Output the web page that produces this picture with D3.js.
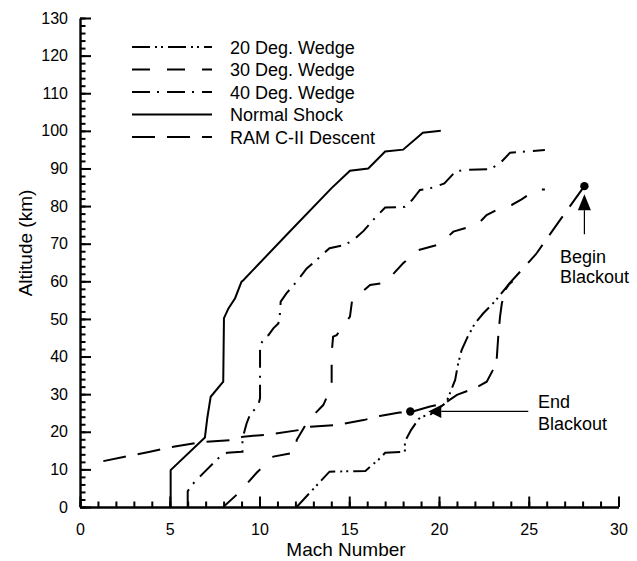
<!DOCTYPE html>
<html>
<head>
<meta charset="utf-8">
<script src="https://cdn.jsdelivr.net/npm/d3@7"></script>
<style>
  body { margin: 0; background: #fff; }
  text { font-family: "Liberation Sans", Arial, sans-serif; fill: #000; }
</style>
</head>
<body>
<div id="chart"></div>
<script>
// curves: mach number and altitude (km)
var normalMach = [5.05, 5.05, 6.96, 7.09, 7.28, 7.98, 8.02, 8.27, 8.64, 9.0, 9.1, 11.5, 14.0, 15.04, 16.06, 17.0, 18.0, 19.1, 20.1];
var normalAlt  = [0, 9.8, 18.5, 23.6, 29.3, 33.3, 50.2, 52.8, 55.5, 59.9, 60.3, 72.3, 84.7, 89.4, 90.0, 94.5, 95.0, 99.5, 100];

var wedge40Mach = [6.0, 6.0, 6.28, 6.87, 7.8, 8.2, 9.0, 9.05, 9.05, 9.1, 9.28, 9.47, 9.93, 10.03, 10.03, 10.1, 10.3, 10.5, 10.77, 11.05, 11.14, 11.18, 11.5, 12.07, 12.63, 13.37, 13.9, 14.67, 15.2, 15.8, 16.5, 17.0, 18.1, 18.5, 18.94, 19.5, 20.3, 20.9, 21.35, 22.84, 23.4, 23.96, 24.5, 25.9];
var wedge40Alt  = [0, 4.2, 6.1, 9.0, 13.4, 14.4, 14.7, 14.7, 18.3, 19.0, 22.2, 24.5, 27.1, 28.9, 41.7, 43.5, 45.3, 45.7, 47.5, 48.8, 51.5, 54.6, 56.8, 59.9, 63.4, 66.5, 68.8, 69.6, 70.8, 73.4, 77.2, 79.6, 79.8, 81.6, 84.3, 84.7, 86.0, 89.1, 89.6, 89.8, 91.4, 94.2, 94.4, 94.9];

var wedge30Mach = [7.98, 8.9, 9.84, 10.77, 11.8, 12.07, 12.07, 12.7, 13.55, 14.02, 14.02, 14.1, 14.3, 15.04, 15.15, 15.3, 16.16, 17.0, 18.0, 18.85, 19.87, 20.3, 20.8, 21.7, 22.2, 22.65, 23.58, 24.05, 24.6, 25.44, 25.9];
var wedge30Alt  = [0, 4.0, 9.1, 13.4, 14.3, 14.7, 17.8, 22.9, 27.1, 32.0, 40.9, 45.3, 45.7, 50.6, 54.6, 55.5, 59.0, 59.6, 64.8, 68.3, 69.6, 71.0, 73.2, 74.5, 75.4, 77.6, 79.8, 80.3, 81.8, 84.4, 84.4];

var wedge20Mach = [12.07, 13.37, 13.9, 15.9, 16.7, 17.0, 18.0, 18.1, 18.1, 18.45, 18.85, 19.0, 19.5, 20.33, 20.5, 20.9, 21.07, 21.26, 21.6, 22.0, 22.47, 23.1, 23.86, 24.1];
var wedge20Alt  = [0, 6.7, 9.4, 9.6, 12.9, 14.4, 14.7, 14.7, 17.4, 20.5, 23.3, 24.0, 24.5, 27.5, 28.9, 33.8, 38.2, 41.7, 45.3, 48.8, 51.5, 54.6, 59.0, 60.0];

var ramMach = [1.3, 3.9, 5.2, 6.69, 8.45, 9.1, 10.58, 12.26, 12.8, 14.3, 15.8, 16.7, 17.8, 18.48, 19.5, 20.3, 21.0, 22.1, 22.66, 23.2, 23.3, 23.4, 23.5, 23.7, 23.9, 25.4, 26.7, 28.1];
var ramAlt  = [12.2, 14.7, 16.0, 17.2, 17.8, 18.7, 19.3, 20.5, 21.3, 21.8, 23.1, 24.2, 25.1, 25.3, 26.7, 27.5, 29.8, 31.8, 33.3, 38.2, 45.3, 50.6, 54.1, 57.7, 59.3, 67.2, 76.0, 85.3];

// begin / end of blackout markers
var blackoutMach = [28.1, 18.4];
var blackoutAlt  = [85.3, 25.4];

var legendLabels = ['20 Deg. Wedge', '30 Deg. Wedge', '40 Deg. Wedge', 'Normal Shock', 'RAM C-II Descent'];
var xTicks = [0, 5, 10, 15, 20, 25, 30];
var yTicks = [0, 10, 20, 30, 40, 50, 60, 70, 80, 90, 100, 110, 120, 130];

var width = 637;
var height = 561;

var series = [
    { label: legendLabels[0], mach: wedge20Mach, alt: wedge20Alt, dash: '18,5,2,4,2,5' },
    { label: legendLabels[1], mach: wedge30Mach, alt: wedge30Alt, dash: '18,17' },
    { label: legendLabels[2], mach: wedge40Mach, alt: wedge40Alt, dash: '18,7,2,8' },
    { label: legendLabels[3], mach: normalMach, alt: normalAlt, dash: null },
    { label: legendLabels[4], mach: ramMach, alt: ramAlt, dash: '23,12' }
];

var svg = d3.select('#chart')
    .append('svg')
    .attr('width', width)
    .attr('height', height);

var x = d3.scaleLinear().domain([0, 30]).range([80, 618.5]);
var y = d3.scaleLinear().domain([0, 130]).range([507, 18]);

// minor ticks first so the major ones sit on top
svg.append('g')
    .attr('transform', 'translate(0,' + y(0) + ')')
    .call(d3.axisBottom(x).tickValues(d3.range(0, 31, 1)).tickFormat('').tickSize(-5.5).tickSizeOuter(0))
    .call(function(g) { g.select('.domain').remove(); });

svg.append('g')
    .attr('transform', 'translate(' + x(0) + ',0)')
    .call(d3.axisLeft(y).tickValues(d3.range(0, 131, 2)).tickFormat('').tickSize(-5.5).tickSizeOuter(0))
    .call(function(g) { g.select('.domain').remove(); });

var xAxis = svg.append('g')
    .attr('transform', 'translate(0,' + y(0) + ')')
    .call(d3.axisBottom(x).tickValues(xTicks).tickSize(-10.5).tickSizeOuter(0).tickPadding(17));

var yAxis = svg.append('g')
    .attr('transform', 'translate(' + x(0) + ',0)')
    .call(d3.axisLeft(y).tickValues(yTicks).tickSize(-11).tickSizeOuter(0).tickPadding(12));

svg.selectAll('.tick line').attr('stroke', '#000').attr('stroke-width', 2);
svg.selectAll('.domain').attr('stroke', '#000').attr('stroke-width', 2.4);
svg.selectAll('.tick text').style('font-size', '16px').style('font-family', '"Liberation Sans", Arial, sans-serif');

// axis titles
svg.append('text')
    .attr('x', 346)
    .attr('y', 556)
    .attr('text-anchor', 'middle')
    .style('font-size', '19px')
    .text('Mach Number');

svg.append('text')
    .attr('transform', 'translate(32,243) rotate(-90)')
    .attr('text-anchor', 'middle')
    .style('font-size', '19px')
    .text('Altitude (km)');

// curves
var line = d3.line()
    .x(function(d) { return x(d[0]); })
    .y(function(d) { return y(d[1]); });

svg.selectAll('.curve')
    .data(series)
    .enter()
    .append('path')
    .attr('class', 'curve')
    .attr('d', function(s) { return line(d3.zip(s.mach, s.alt)); })
    .attr('fill', 'none')
    .attr('stroke', '#000')
    .attr('stroke-width', 2)
    .attr('stroke-dasharray', function(s) { return s.dash; });

// legend
var legend = svg.selectAll('.legend')
    .data(series)
    .enter()
    .append('g')
    .attr('class', 'legend')
    .attr('transform', function(d, i) { return 'translate(132,' + (47 + i * 22.5) + ')'; });

legend.append('line')
    .attr('x1', 0)
    .attr('x2', 80)
    .attr('stroke', '#000')
    .attr('stroke-width', 2)
    .attr('stroke-dasharray', function(s) { return s.dash; });

legend.append('text')
    .attr('x', 98)
    .attr('y', 6.5)
    .style('font-size', '18px')
    .text(function(s) { return s.label; });

// blackout markers and arrows
var bx = x(blackoutMach[0]), by = y(blackoutAlt[0]);
var ex = x(blackoutMach[1]), ey = y(blackoutAlt[1]);

svg.selectAll('.dot')
    .data(d3.zip(blackoutMach, blackoutAlt))
    .enter()
    .append('circle')
    .attr('cx', function(d) { return x(d[0]); })
    .attr('cy', function(d) { return y(d[1]); })
    .attr('r', 4.2)
    .attr('fill', '#000');

svg.append('path')
    .attr('d', 'M' + bx + ',' + (by + 8) + 'L' + (bx - 6.5) + ',' + (by + 24) + 'L' + (bx + 6.5) + ',' + (by + 24) + 'Z')
    .attr('fill', '#000');
svg.append('line')
    .attr('x1', bx).attr('x2', bx)
    .attr('y1', by + 24).attr('y2', by + 48)
    .attr('stroke', '#000').attr('stroke-width', 1.2);

svg.append('path')
    .attr('d', 'M' + (ex + 18) + ',' + ey + 'L' + (ex + 31) + ',' + (ey - 6.5) + 'L' + (ex + 31) + ',' + (ey + 6.5) + 'Z')
    .attr('fill', '#000');
svg.append('line')
    .attr('x1', ex + 31).attr('x2', ex + 118)
    .attr('y1', ey).attr('y2', ey)
    .attr('stroke', '#000').attr('stroke-width', 1.2);

var notes = [
    { x: 560, y: 263, t: 'Begin' },
    { x: 560, y: 283, t: 'Blackout' },
    { x: 538, y: 408, t: 'End' },
    { x: 538, y: 430, t: 'Blackout' }
];
svg.selectAll('.note')
    .data(notes)
    .enter()
    .append('text')
    .attr('class', 'note')
    .attr('x', function(d) { return d.x; })
    .attr('y', function(d) { return d.y; })
    .style('font-size', '18px')
    .text(function(d) { return d.t; });
</script>
</body>
</html>
